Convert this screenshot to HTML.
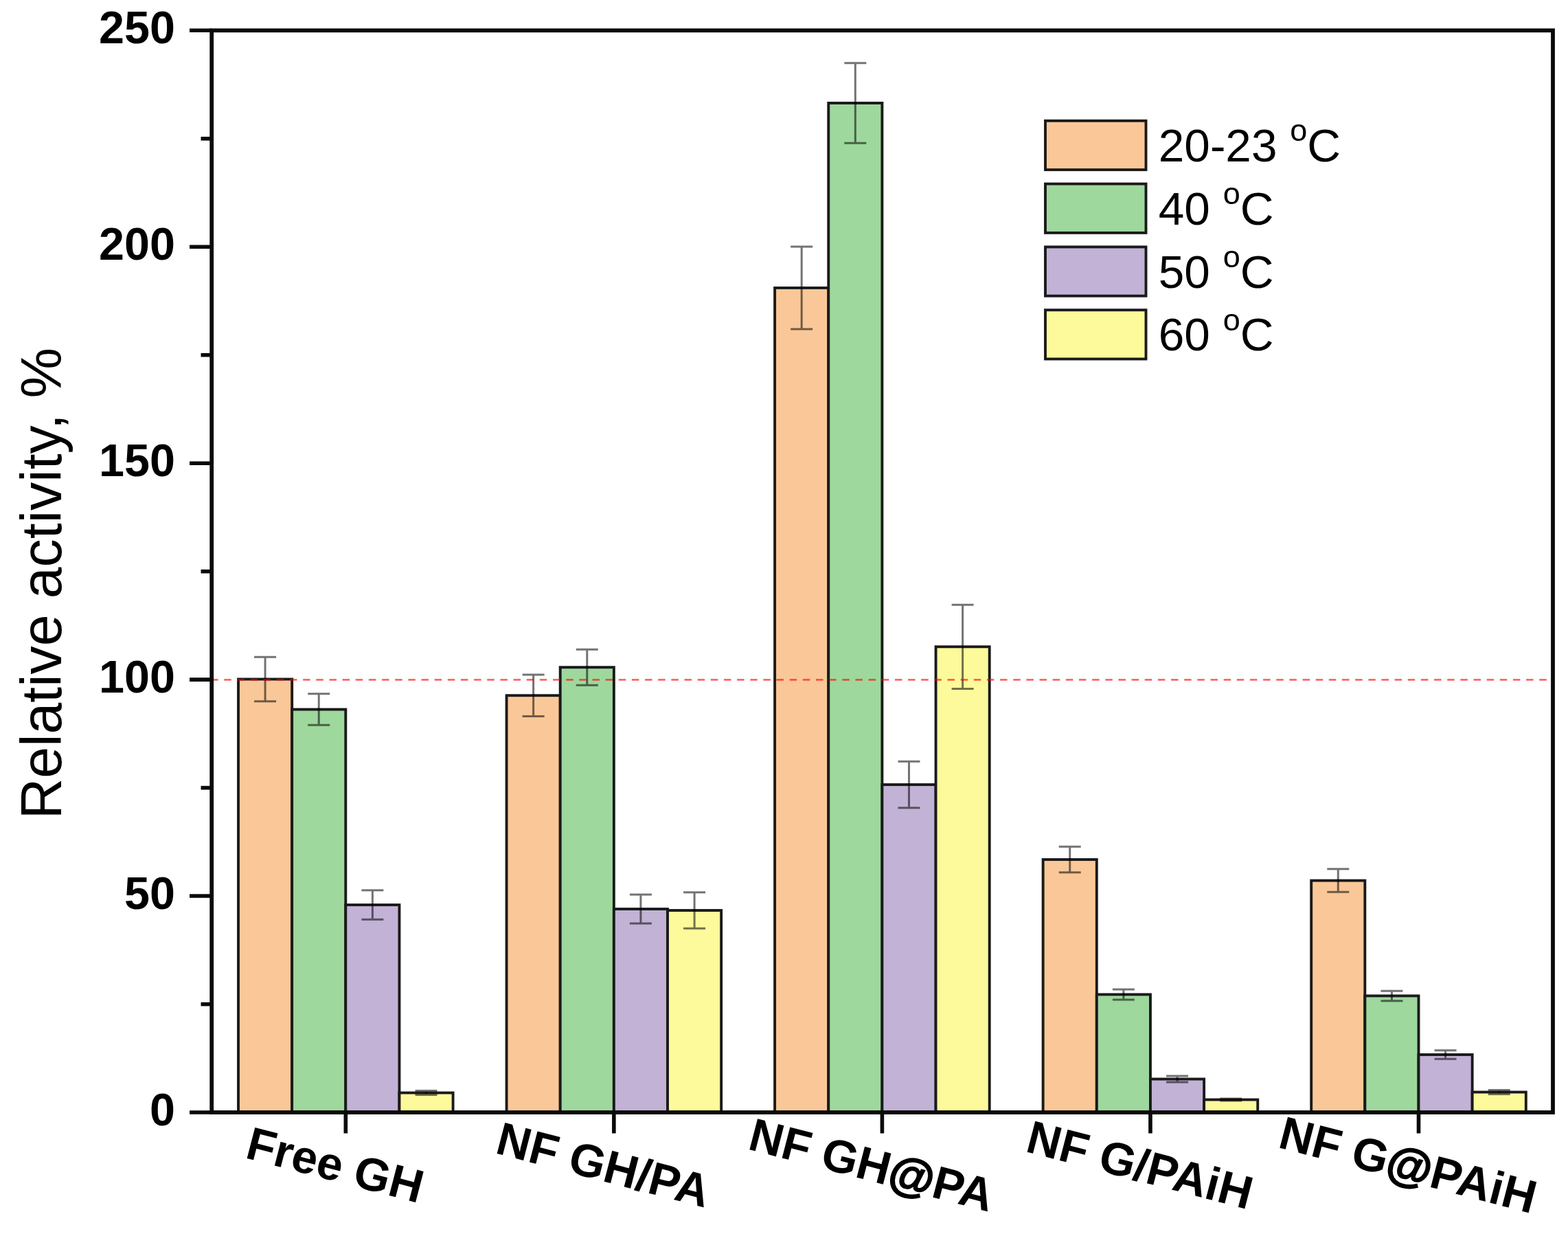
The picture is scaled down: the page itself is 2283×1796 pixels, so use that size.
<!DOCTYPE html>
<html><head><meta charset="utf-8"><title>Relative activity</title>
<style>
html,body{margin:0;padding:0;background:#fff;}
body{width:2283px;height:1796px;overflow:hidden;}
svg{display:block;}
text{font-family:"Liberation Sans",Arial,Helvetica,sans-serif;fill:#000;}
.b{font-weight:bold;}
</style></head><body>
<svg width="2283" height="1796" viewBox="0 0 2283 1796">
<rect x="0" y="0" width="2283" height="1796" fill="#fff"/>
<g stroke="#1a1a1a" stroke-width="3.9" stroke-linejoin="miter">
<rect x="347.00" y="988.50" width="78.15" height="630.50" fill="#FAC898"/>
<rect x="425.15" y="1032.50" width="78.15" height="586.50" fill="#9ED89D"/>
<rect x="503.30" y="1317.00" width="78.15" height="302.00" fill="#C2B2D6"/>
<rect x="581.45" y="1590.50" width="78.15" height="28.50" fill="#FDFA9C"/>
<rect x="737.55" y="1012.20" width="78.15" height="606.80" fill="#FAC898"/>
<rect x="815.70" y="971.20" width="78.15" height="647.80" fill="#9ED89D"/>
<rect x="893.85" y="1323.00" width="78.15" height="296.00" fill="#C2B2D6"/>
<rect x="972.00" y="1325.00" width="78.15" height="294.00" fill="#FDFA9C"/>
<rect x="1128.10" y="419.00" width="78.15" height="1200.00" fill="#FAC898"/>
<rect x="1206.25" y="150.00" width="78.15" height="1469.00" fill="#9ED89D"/>
<rect x="1284.40" y="1142.00" width="78.15" height="477.00" fill="#C2B2D6"/>
<rect x="1362.55" y="941.30" width="78.15" height="677.70" fill="#FDFA9C"/>
<rect x="1518.65" y="1251.00" width="78.15" height="368.00" fill="#FAC898"/>
<rect x="1596.80" y="1447.40" width="78.15" height="171.60" fill="#9ED89D"/>
<rect x="1674.95" y="1570.50" width="78.15" height="48.50" fill="#C2B2D6"/>
<rect x="1753.10" y="1600.50" width="78.15" height="18.50" fill="#FDFA9C"/>
<rect x="1909.20" y="1281.60" width="78.15" height="337.40" fill="#FAC898"/>
<rect x="1987.35" y="1449.40" width="78.15" height="169.60" fill="#9ED89D"/>
<rect x="2065.50" y="1535.00" width="78.15" height="84.00" fill="#C2B2D6"/>
<rect x="2143.65" y="1589.50" width="78.15" height="29.50" fill="#FDFA9C"/>
</g>
<g stroke="#000" stroke-opacity="0.55" stroke-width="3" fill="none">
<path d="M386.07 956.30V1020.70M370.07 956.30H402.07M370.07 1020.70H402.07"/>
<path d="M464.22 1009.65V1055.35M448.22 1009.65H480.22M448.22 1055.35H480.22"/>
<path d="M542.38 1295.80V1338.20M526.38 1295.80H558.38M526.38 1338.20H558.38"/>
<path d="M620.53 1587.50V1593.50M604.53 1587.50H636.53M604.53 1593.50H636.53"/>
<path d="M776.62 981.90V1042.50M760.62 981.90H792.62M760.62 1042.50H792.62"/>
<path d="M854.77 945.20V997.20M838.77 945.20H870.77M838.77 997.20H870.77"/>
<path d="M932.92 1301.90V1344.10M916.92 1301.90H948.92M916.92 1344.10H948.92"/>
<path d="M1011.08 1298.65V1351.35M995.08 1298.65H1027.08M995.08 1351.35H1027.08"/>
<path d="M1167.17 359.10V478.90M1151.17 359.10H1183.17M1151.17 478.90H1183.17"/>
<path d="M1245.33 91.75V208.25M1229.33 91.75H1261.33M1229.33 208.25H1261.33"/>
<path d="M1323.47 1108.30V1175.70M1307.47 1108.30H1339.47M1307.47 1175.70H1339.47"/>
<path d="M1401.62 880.15V1002.45M1385.62 880.15H1417.62M1385.62 1002.45H1417.62"/>
<path d="M1557.73 1232.15V1269.85M1541.73 1232.15H1573.73M1541.73 1269.85H1573.73"/>
<path d="M1635.88 1439.90V1454.90M1619.88 1439.90H1651.88M1619.88 1454.90H1651.88"/>
<path d="M1714.03 1566.00V1575.00M1698.03 1566.00H1730.03M1698.03 1575.00H1730.03"/>
<path d="M1792.18 1599.00V1602.00M1776.18 1599.00H1808.18M1776.18 1602.00H1808.18"/>
<path d="M1948.28 1264.85V1298.35M1932.28 1264.85H1964.28M1932.28 1298.35H1964.28"/>
<path d="M2026.43 1442.15V1456.65M2010.43 1442.15H2042.43M2010.43 1456.65H2042.43"/>
<path d="M2104.57 1528.80V1541.20M2088.57 1528.80H2120.57M2088.57 1541.20H2120.57"/>
<path d="M2182.72 1586.60V1592.40M2166.72 1586.60H2198.72M2166.72 1592.40H2198.72"/>
</g>
<line x1="307.1" y1="989.42" x2="2258" y2="989.42" stroke="#ff0000" stroke-opacity="0.6" stroke-width="2.9" stroke-dasharray="10.5 8.65"/>
<rect x="308.20" y="44.30" width="1952.80" height="1574.70" fill="none" stroke="#0a0a0a" stroke-width="5.80"/>
<g stroke="#0a0a0a" stroke-width="5.6">
<line x1="308.20" y1="1619.00" x2="276.00" y2="1619.00"/>
<line x1="308.20" y1="1461.53" x2="292.50" y2="1461.53"/>
<line x1="308.20" y1="1304.06" x2="276.00" y2="1304.06"/>
<line x1="308.20" y1="1146.59" x2="292.50" y2="1146.59"/>
<line x1="308.20" y1="989.12" x2="276.00" y2="989.12"/>
<line x1="308.20" y1="831.65" x2="292.50" y2="831.65"/>
<line x1="308.20" y1="674.18" x2="276.00" y2="674.18"/>
<line x1="308.20" y1="516.71" x2="292.50" y2="516.71"/>
<line x1="308.20" y1="359.24" x2="276.00" y2="359.24"/>
<line x1="308.20" y1="201.77" x2="292.50" y2="201.77"/>
<line x1="308.20" y1="44.30" x2="276.00" y2="44.30"/>
<line x1="503.30" y1="1619.00" x2="503.30" y2="1649.50"/>
<line x1="893.85" y1="1619.00" x2="893.85" y2="1649.50"/>
<line x1="1284.40" y1="1619.00" x2="1284.40" y2="1649.50"/>
<line x1="1674.95" y1="1619.00" x2="1674.95" y2="1649.50"/>
<line x1="2065.50" y1="1619.00" x2="2065.50" y2="1649.50"/>
</g>
<text class="b" x="255" y="1637.70" font-size="66.5" text-anchor="end">0</text>
<text class="b" x="255" y="1322.76" font-size="66.5" text-anchor="end">50</text>
<text class="b" x="255" y="1007.82" font-size="66.5" text-anchor="end">100</text>
<text class="b" x="255" y="692.88" font-size="66.5" text-anchor="end">150</text>
<text class="b" x="255" y="377.94" font-size="66.5" text-anchor="end">200</text>
<text class="b" x="255" y="63.00" font-size="66.5" text-anchor="end">250</text>
<text class="b" x="482.30" y="1717.90" font-size="67.5" text-anchor="middle" transform="rotate(14.60 482.30 1717.90)">Free GH</text>
<text class="b" x="872.85" y="1717.90" font-size="67.5" text-anchor="middle" transform="rotate(14.60 872.85 1717.90)">NF GH/PA</text>
<text class="b" x="1263.40" y="1717.90" font-size="67.5" text-anchor="middle" transform="rotate(14.60 1263.40 1717.90)">NF GH<tspan stroke="#000" stroke-width="1.8">@</tspan>PA</text>
<text class="b" x="1653.95" y="1717.90" font-size="67.5" text-anchor="middle" transform="rotate(14.60 1653.95 1717.90)">NF G/PAiH</text>
<text class="b" x="2044.50" y="1717.90" font-size="67.5" text-anchor="middle" transform="rotate(14.60 2044.50 1717.90)">NF G<tspan stroke="#000" stroke-width="1.8">@</tspan>PAiH</text>
<text x="0" y="0" font-size="82.5" transform="translate(88.5 1192.3) rotate(-90)">Relative activity, %</text>
<g stroke="#1a1a1a" stroke-width="3.9">
<rect x="1522" y="175.80" width="146.5" height="71.3" fill="#FAC898"/>
<rect x="1522" y="267.60" width="146.5" height="71.3" fill="#9ED89D"/>
<rect x="1522" y="359.40" width="146.5" height="71.3" fill="#C2B2D6"/>
<rect x="1522" y="451.20" width="146.5" height="71.3" fill="#FDFA9C"/>
</g>
<text x="1686.8" y="235.00" font-size="67.5">20-23 <tspan font-size="45" dy="-29.6">o</tspan><tspan dy="29.6">C</tspan></text>
<text x="1686.8" y="326.80" font-size="67.5">40 <tspan font-size="45" dy="-29.6">o</tspan><tspan dy="29.6">C</tspan></text>
<text x="1686.8" y="418.60" font-size="67.5">50 <tspan font-size="45" dy="-29.6">o</tspan><tspan dy="29.6">C</tspan></text>
<text x="1686.8" y="510.40" font-size="67.5">60 <tspan font-size="45" dy="-29.6">o</tspan><tspan dy="29.6">C</tspan></text>
</svg>
</body></html>
